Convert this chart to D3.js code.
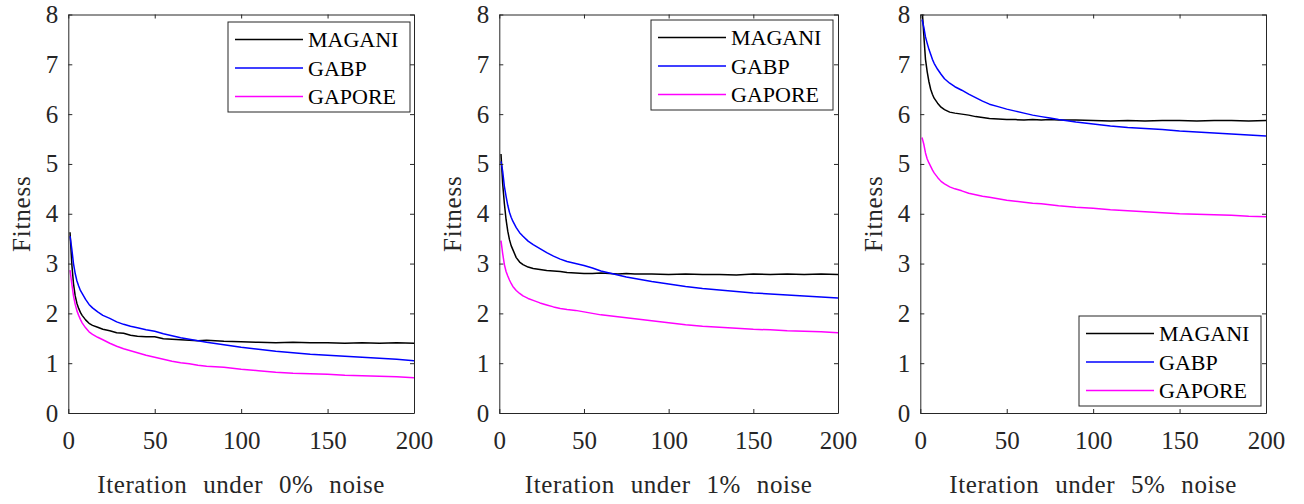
<!DOCTYPE html>
<html>
<head>
<meta charset="utf-8">
<script src="https://cdn.jsdelivr.net/npm/d3@7"></script>
<style>
  body { margin: 0; background: #fff; }
</style>
</head>
<body>
<div id="chart"></div>
<script>
const ITER = [1,2,3,4,5,6,7,8,10,12,14,17,20,24,28,32,36,40,45,50,55,60,65,70,75,80,90,100,110,120,130,140,150,160,170,180,190,200];

const SERIES_NAMES = ["MAGANI", "GABP", "GAPORE"];
const NOISE_LABELS = ["0%", "1%", "5%"];
const Y_TICKS = [0, 1, 2, 3, 4, 5, 6, 7, 8];
const X_TICKS = [0, 50, 100, 150, 200];

// 0% noise
const magani0 = [3.63,3.0,2.6,2.35,2.2,2.1,2.02,1.96,1.87,1.8,1.76,1.72,1.68,1.65,1.61,1.6,1.56,1.54,1.53,1.53,1.49,1.48,1.47,1.46,1.45,1.46,1.44,1.43,1.42,1.41,1.42,1.41,1.41,1.40,1.41,1.40,1.41,1.40];
const gabp0   = [3.55,3.3,3.0,2.8,2.65,2.55,2.46,2.4,2.28,2.18,2.11,2.03,1.96,1.9,1.83,1.78,1.74,1.71,1.67,1.64,1.59,1.55,1.51,1.48,1.45,1.42,1.37,1.32,1.28,1.24,1.21,1.18,1.16,1.14,1.12,1.10,1.08,1.05];
const gapore0 = [2.87,2.6,2.35,2.18,2.05,1.96,1.88,1.81,1.71,1.63,1.58,1.52,1.47,1.4,1.34,1.29,1.25,1.21,1.16,1.12,1.08,1.04,1.01,0.99,0.96,0.94,0.92,0.88,0.85,0.82,0.8,0.79,0.78,0.76,0.75,0.74,0.73,0.71];

// 1% noise
const magani1 = [5.2,4.6,4.2,3.88,3.65,3.48,3.36,3.28,3.12,3.03,2.98,2.93,2.9,2.88,2.86,2.85,2.84,2.82,2.81,2.8,2.8,2.81,2.8,2.79,2.8,2.79,2.79,2.78,2.79,2.78,2.78,2.77,2.79,2.78,2.79,2.78,2.79,2.78];
const gabp1   = [5.05,4.85,4.55,4.35,4.17,4.03,3.93,3.85,3.72,3.62,3.55,3.45,3.38,3.3,3.22,3.15,3.09,3.04,3.0,2.96,2.91,2.85,2.81,2.77,2.73,2.7,2.64,2.59,2.54,2.5,2.47,2.44,2.41,2.39,2.37,2.35,2.33,2.31];
const gapore1 = [3.46,3.2,2.98,2.84,2.75,2.67,2.6,2.54,2.46,2.4,2.35,2.3,2.26,2.21,2.17,2.13,2.1,2.08,2.06,2.03,2.0,1.97,1.95,1.93,1.91,1.89,1.85,1.81,1.77,1.74,1.72,1.7,1.68,1.67,1.65,1.64,1.63,1.61];

// 5% noise
const magani5 = [8.15,7.6,7.1,6.85,6.65,6.5,6.4,6.32,6.22,6.14,6.09,6.04,6.02,6.0,5.98,5.95,5.93,5.91,5.9,5.89,5.89,5.88,5.89,5.88,5.89,5.88,5.88,5.87,5.86,5.87,5.86,5.87,5.87,5.86,5.87,5.87,5.86,5.87];
const gabp5   = [7.9,7.75,7.55,7.42,7.3,7.2,7.1,7.02,6.9,6.8,6.71,6.62,6.55,6.48,6.4,6.33,6.26,6.2,6.15,6.1,6.06,6.02,5.98,5.95,5.92,5.89,5.84,5.8,5.76,5.73,5.71,5.69,5.66,5.64,5.62,5.6,5.58,5.56];
const gapore5 = [5.53,5.4,5.22,5.1,5.02,4.95,4.88,4.82,4.73,4.65,4.6,4.54,4.5,4.46,4.41,4.38,4.35,4.33,4.3,4.27,4.25,4.23,4.21,4.2,4.18,4.16,4.13,4.11,4.08,4.06,4.04,4.02,4.0,3.99,3.98,3.97,3.95,3.94];

const COLORS = ["#000000", "#0000ff", "#ff00ff"];
const FONT = "Liberation Serif";

var width = 1304, height = 504;
var svg = d3.select("#chart").append("svg")
  .attr("width", width)
  .attr("height", height)
  .attr("font-family", FONT)
  .style("display", "block");

// panel boxes and legend placement
const panels = [
  { left: 68.3,  w: 345.7, data: [magani0, gabp0, gapore0], legend: {x: 228, y: 22} },
  { left: 499.3, w: 338.7, data: [magani1, gabp1, gapore1], legend: {x: 651, y: 20} },
  { left: 920.3, w: 345.7, data: [magani5, gabp5, gapore5], legend: {x: 1079, y: 316} }
];
const plotTop = 14.5, plotBottom = 413;
const axisColor = "#262626";

panels.forEach(function(p, pi) {
  var x = d3.scaleLinear().domain([0, 200]).range([p.left, p.left + p.w]);
  var y = d3.scaleLinear().domain([0, 8]).range([plotBottom, plotTop]);
  var g = svg.append("g");

  var clipId = "clip" + pi;
  svg.append("clipPath").attr("id", clipId)
    .append("rect")
    .attr("x", p.left).attr("y", plotTop)
    .attr("width", p.w).attr("height", plotBottom - plotTop);

  var line = d3.line()
    .x(function(d) { return x(d[0]); })
    .y(function(d) { return y(d[1]); });

  p.data.forEach(function(vals, si) {
    g.append("path")
      .datum(ITER.map(function(it, i) { return [it, vals[i]]; }))
      .attr("clip-path", "url(#" + clipId + ")")
      .attr("fill", "none")
      .attr("stroke", COLORS[si])
      .attr("stroke-width", 1.5)
      .attr("stroke-linejoin", "round")
      .attr("d", line);
  });

  // box with inward ticks on all sides
  g.append("g").attr("transform", "translate(0," + plotBottom + ")")
    .call(d3.axisBottom(x).tickValues(X_TICKS).tickSizeInner(-4).tickSizeOuter(0).tickPadding(18))
    .call(styleAxis);
  g.append("g").attr("transform", "translate(0," + plotTop + ")")
    .call(d3.axisTop(x).tickValues(X_TICKS).tickSizeInner(-4).tickSizeOuter(0).tickFormat(""))
    .call(styleAxis);
  g.append("g").attr("transform", "translate(" + p.left + ",0)")
    .call(d3.axisLeft(y).tickValues(Y_TICKS).tickSizeInner(-4).tickSizeOuter(0).tickPadding(10))
    .call(styleAxis);
  g.append("g").attr("transform", "translate(" + (p.left + p.w) + ",0)")
    .call(d3.axisRight(y).tickValues(Y_TICKS).tickSizeInner(-4).tickSizeOuter(0).tickFormat(""))
    .call(styleAxis);

  // axis labels
  g.append("text")
    .attr("x", p.left + p.w / 2)
    .attr("y", 493)
    .attr("text-anchor", "middle")
    .attr("fill", axisColor)
    .attr("font-family", FONT)
    .attr("font-size", 25)
    .attr("word-spacing", 9)
    .attr("letter-spacing", 0.6)
    .text("Iteration under " + NOISE_LABELS[pi] + " noise");

  g.append("text")
    .attr("transform", "translate(" + (p.left - 38) + "," + ((plotTop + plotBottom) / 2) + ") rotate(-90)")
    .attr("text-anchor", "middle")
    .attr("fill", axisColor)
    .attr("font-family", FONT)
    .attr("font-size", 25)
    .attr("letter-spacing", 0.8)
    .text("Fitness");

  // legend
  var lg = g.append("g").attr("transform", "translate(" + p.legend.x + "," + p.legend.y + ")");
  lg.append("rect")
    .attr("width", 182).attr("height", 90)
    .attr("fill", "#fff")
    .attr("stroke", axisColor)
    .attr("stroke-width", 1);
  var item = lg.selectAll("g.item")
    .data(SERIES_NAMES)
    .enter().append("g")
    .attr("transform", function(d, i) { return "translate(0," + (17.5 + i * 28.5) + ")"; });
  item.append("line")
    .attr("x1", 7).attr("x2", 75)
    .attr("stroke", function(d, i) { return COLORS[i]; })
    .attr("stroke-width", 1.5);
  item.append("text")
    .attr("x", 80)
    .attr("dy", "0.35em")
    .attr("font-family", FONT)
    .attr("font-size", 22)
    .attr("fill", "#000")
    .text(function(d) { return d; });
});

function styleAxis(sel) {
  sel.attr("font-family", FONT).attr("font-size", 25);
  sel.select(".domain").attr("stroke", axisColor).attr("stroke-width", 1);
  sel.selectAll(".tick line").attr("stroke", axisColor);
  sel.selectAll(".tick text").attr("fill", axisColor);
}
</script>
</body>
</html>
